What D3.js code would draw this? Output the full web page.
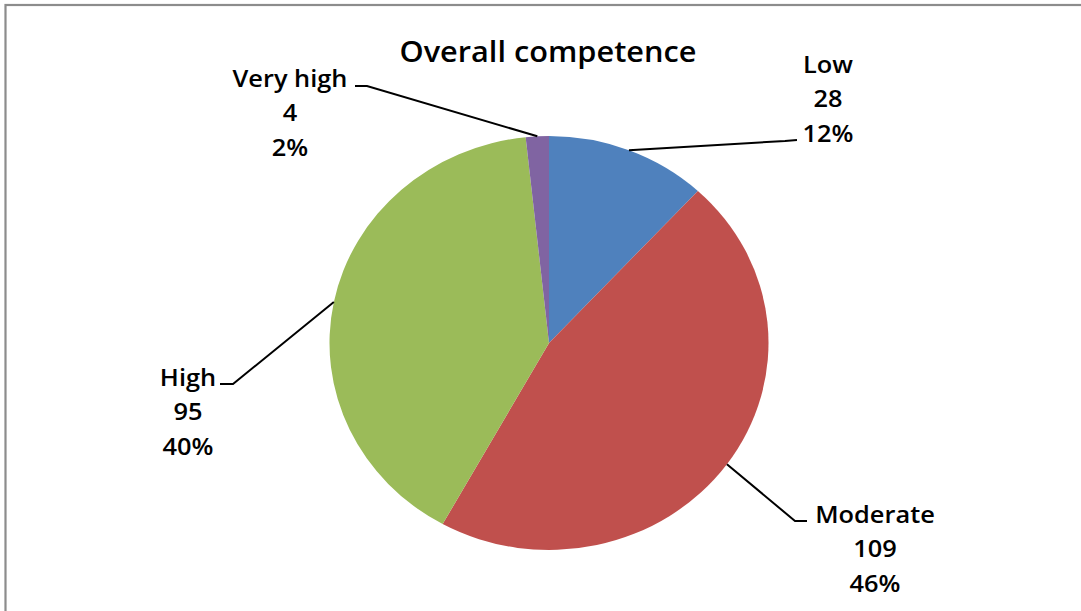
<!DOCTYPE html>
<html>
<head>
<meta charset="utf-8">
<script src="https://cdn.jsdelivr.net/npm/d3@7"></script>
<style>
  html, body { margin: 0; padding: 0; background: #fff; }
  svg { display: block; }
  text { font-family: "Open Sans", Lato, sans-serif; font-weight: 600; fill: #000; }
</style>
</head>
<body>
<svg id="chart" width="1081" height="611"></svg>
<script>
// Overall competence levels (counts and rounded shares)
const categories = ["Low", "Moderate", "High", "Very high"];
const counts = [28, 109, 95, 4];
const percentLabels = ["12%", "46%", "40%", "2%"];
const colors = ["#4F81BD", "#C0504D", "#9BBB59", "#8064A2"];
const title = "Overall competence";

const W = 1081, H = 611;
const svg = d3.select("#chart");

// chart frame
svg.append("rect")
  .attr("x", 5.5).attr("y", 5)
  .attr("width", W + 20).attr("height", H + 20)
  .attr("fill", "none")
  .attr("stroke", "#8c8c8c")
  .attr("stroke-width", 2.2);

// pie geometry (drawn slightly wider than tall)
const cx = 549, cy = 343, ry = 207, rx = 219.5;
const sx = rx / ry;

const pie = d3.pie().sort(null).value(d => d)(counts);
const arc = d3.arc().innerRadius(0).outerRadius(ry);

const g = svg.append("g")
  .attr("transform", `translate(${cx},${cy}) scale(${sx},1)`);

g.selectAll("path")
  .data(pie)
  .join("path")
  .attr("d", arc)
  .attr("fill", (d, i) => colors[i]);

// title, slightly widened like the rest of the drawing
svg.append("g")
  .attr("transform", "translate(548,62) scale(1.06,1)")
  .append("text")
  .attr("text-anchor", "middle")
  .style("font-size", "29px")
  .text(title);

// label placement: text centre / first baseline, and leader elbow
const layout = [
  { tx: 828, ty: 73, elbow: [785, 141], end: [797, 140] },
  { tx: 875, ty: 523, elbow: [795, 521], end: [807, 521] },
  { tx: 188, ty: 386, elbow: [233, 384], end: [220, 384] },
  { tx: 290, ty: 87, elbow: [367, 86], end: [355, 86] }
];
const lineGap = 34.5;

pie.forEach((d, i) => {
  const a = (d.startAngle + d.endAngle) / 2;
  const px = cx + rx * Math.sin(a);
  const py = cy - ry * Math.cos(a);
  const L = layout[i];
  svg.append("path")
    .attr("d", d3.line()([[px, py], L.elbow, L.end]))
    .attr("fill", "none")
    .attr("stroke", "#000")
    .attr("stroke-width", 2);

  const t = svg.append("g")
    .attr("transform", `translate(${L.tx},${L.ty}) scale(1.08,1)`)
    .append("text")
    .attr("text-anchor", "middle")
    .style("font-size", "23.5px");
  [categories[i], String(counts[i]), percentLabels[i]].forEach((s, k) => {
    t.append("tspan")
      .attr("x", 0)
      .attr("y", k * lineGap)
      .text(s);
  });
});
</script>
</body>
</html>
